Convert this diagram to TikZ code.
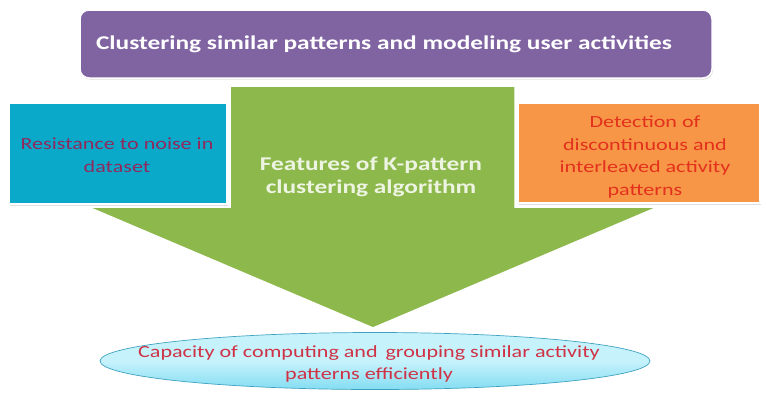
\documentclass[tikz,border=0pt]{standalone}
\usepackage{fontspec}
\setmainfont[FakeStretch=1.3]{Carlito}
\usetikzlibrary{positioning,shapes.geometric,shadows}

\definecolor{titlepurple}{HTML}{8064A2}
\definecolor{featgreen}{HTML}{8DB84B}
\definecolor{feattext}{HTML}{EEF4E2}
\definecolor{noiseblue}{HTML}{0BA9C9}
\definecolor{noisetext}{HTML}{8E2A5E}
\definecolor{detectorange}{HTML}{F79646}
\definecolor{detecttext}{HTML}{E3311D}
\definecolor{caplight}{HTML}{C6F2FC}
\definecolor{capdark}{HTML}{84DDF2}
\definecolor{capedge}{HTML}{3FA3C0}
\definecolor{captext}{HTML}{CF3245}

\tikzset{
  panel/.style={draw=white, line width=1.5pt, align=center, inner sep=0pt,
    drop shadow={opacity=0.25, shadow xshift=1pt, shadow yshift=-1.5pt}},
  boxtext/.style={align=center, font=\fontsize{17}{22.5}\selectfont},
  headtext/.style={align=center, font=\bfseries\fontsize{19.5}{23}\selectfont},
}

\begin{document}
\begin{tikzpicture}[x=1pt, y=-1pt]
    \useasboundingbox (0,0) rectangle (766,392);
    % big arrow in the middle
    \coordinate (a1) at (230,86);
    \coordinate (a2) at (515,86);
    \coordinate (tip) at (373,328);
    \fill[featgreen, draw=white, line width=1.5pt]
       (a1) -- (a2) -- (a2 |- 0,207) -- (658,207) -- (tip)
       -- (88,207) -- (a1 |- 0,207) -- cycle;
    \node[headtext, text=feattext] (features) at (371,177)
       {Features of K-pattern\\clustering algorithm};
    % title bar
    \node[panel, fill=titlepurple, rounded corners=9pt, minimum width=632pt,
       minimum height=68pt] (title) at (396,44) {};
    \node[headtext, text=white] (titletxt) at (384,44)
       {Clustering similar patterns and modeling user activities};
    % side boxes
    \node[panel, fill=noiseblue, minimum width=218pt,
       minimum height=101pt] (noise) at (118,153.5) {};
    \node[boxtext, text=noisetext] (noisetxt) at (117,155)
       {Resistance to noise in\\dataset};
    \node[panel, fill=detectorange, minimum width=242pt, minimum height=100pt]
       (detect) at (639,153) {};
    \node[boxtext, text=detecttext] (detecttxt) at (645,157)
       {Detection of\\discontinuous and\\interleaved activity\\patterns};
    % result at the bottom
    \node[ellipse, draw=capedge, line width=0.7pt, top color=caplight,
       bottom color=capdark, middle color=caplight, minimum width=550pt,
       minimum height=57pt] (capacity) at (375,361) {};
    \node[boxtext, text=captext] (capacitytxt) at (369,364)
       {Capacity of computing and\, grouping similar activity\\patterns efficiently};
\end{tikzpicture}
\end{document}
